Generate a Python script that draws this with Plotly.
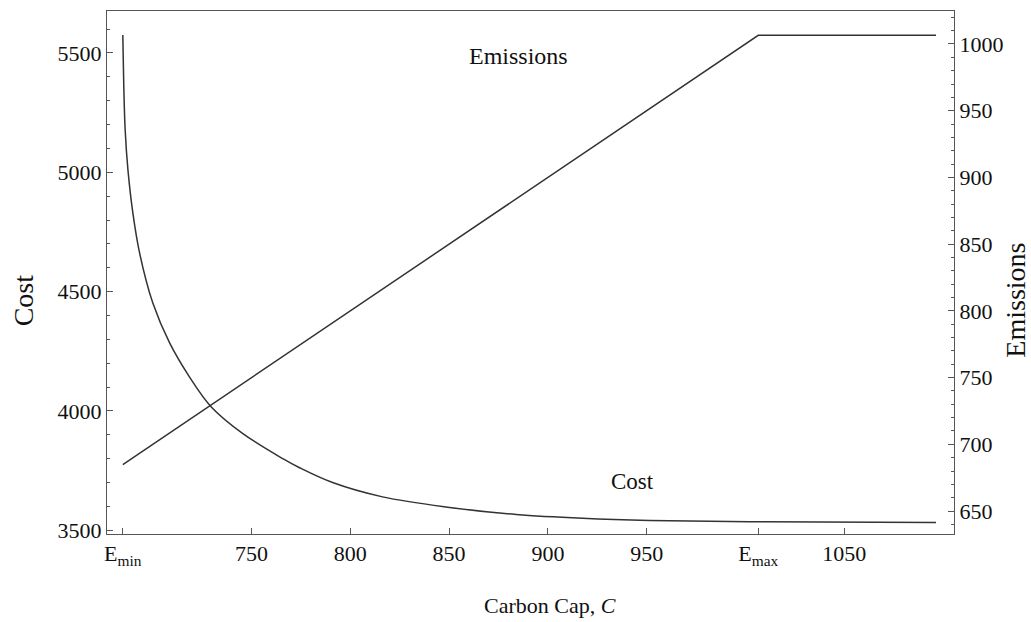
import plotly.graph_objects as go

# Carbon cap values (x) and total cost along the curve
cap_cost = [684.8, 685.3, 686.0, 687.4, 689.9, 693.3, 700.0, 708.5, 718.6,
            729.6, 745.6, 765.8, 774.3, 791.0, 816.3, 850.3, 884.0, 917.6, 951.5,
            1002.0, 1096.5]
cost = [5575, 5359, 5177, 5010, 4829, 4662, 4452, 4285, 4142,
        4017, 3905, 3800, 3762, 3700, 3640, 3596, 3566, 3550, 3541,
        3536, 3533]

# Emissions follow the cap until E_max, then stay flat
cap_emis = [684.8, 1006.5, 1096.5]
emissions = [684.8, 1006.5, 1006.5]

x_tickvals = [684.8, 750, 800, 850, 900, 950, 1006.5, 1050]
x_ticktext = ["E<sub>min</sub>", "750", "800", "850", "900", "950", "E<sub>max</sub>", "1050"]
cost_ticks = [3500, 4000, 4500, 5000, 5500]
emis_ticks = [650, 700, 750, 800, 850, 900, 950, 1000]

FONT = "Liberation Serif"
FRAME = "#555555"
LINE = "#333333"
TEXT = "#111111"

fig = go.Figure()
fig.add_trace(go.Scatter(x=cap_cost, y=cost, mode="lines", yaxis="y",
                         line=dict(color=LINE, width=1.5, shape="spline", smoothing=1.0),
                         showlegend=False, hoverinfo="skip"))
fig.add_trace(go.Scatter(x=cap_emis, y=emissions, mode="lines", yaxis="y2",
                         line=dict(color=LINE, width=1.5),
                         showlegend=False, hoverinfo="skip"))

axis_common = dict(showgrid=False, zeroline=False, showline=True, linecolor=FRAME,
                   linewidth=1, ticks="inside", tickcolor=FRAME, tickwidth=1,
                   tickfont=dict(family=FONT, size=22, color=TEXT))

fig.update_layout(
    width=1031, height=622,
    margin=dict(l=107, r=77, t=11, b=88),
    paper_bgcolor="white", plot_bgcolor="white",
    xaxis=dict(range=[676.8, 1105.6], tickvals=x_tickvals, ticktext=x_ticktext,
               ticklen=6, mirror=True, **axis_common),
    yaxis=dict(range=[3484.5, 5675.8], tickvals=cost_ticks, ticklen=6,
               minor=dict(ticks="inside", dtick=100, ticklen=3, tickcolor=FRAME),
               **axis_common),
    yaxis2=dict(range=[632.8, 1024.7], tickvals=emis_ticks, ticklen=6,
                overlaying="y", side="right",
                minor=dict(ticks="inside", dtick=10, ticklen=3, tickcolor=FRAME),
                **axis_common),
    annotations=[
        dict(text="Emissions", x=885.2, y=991, xref="x", yref="y2", showarrow=False,
             xanchor="center", yanchor="middle",
             font=dict(family=FONT, size=24, color=TEXT)),
        dict(text="Cost", x=942.9, y=3706, xref="x", yref="y", showarrow=False,
             xanchor="center", yanchor="middle",
             font=dict(family=FONT, size=23, color=TEXT)),
        dict(text="Carbon Cap, <i>C</i>", x=0.523, y=-0.136, xref="paper", yref="paper",
             showarrow=False, xanchor="center", yanchor="middle",
             font=dict(family=FONT, size=22, color=TEXT)),
        dict(text="Cost", x=-0.099, y=0.447, xref="paper", yref="paper", textangle=-90,
             showarrow=False, xanchor="center", yanchor="middle",
             font=dict(family=FONT, size=28, color=TEXT)),
        dict(text="Emissions", x=1.0725, y=0.447, xref="paper", yref="paper", textangle=-90,
             showarrow=False, xanchor="center", yanchor="middle",
             font=dict(family=FONT, size=28, color=TEXT)),
    ],
)

fig.write_html("out.html")
